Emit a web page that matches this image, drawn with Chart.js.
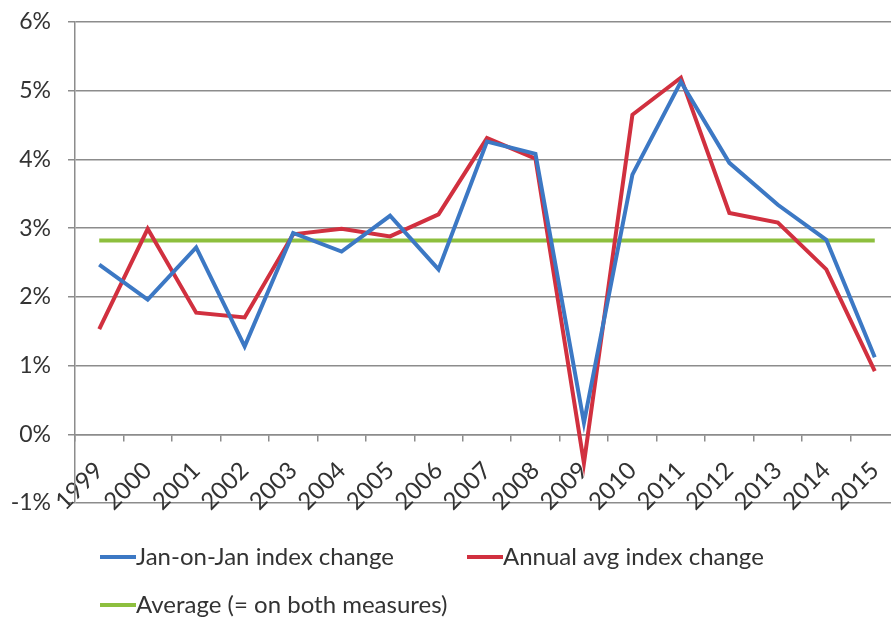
<!DOCTYPE html>
<html>
<head>
<meta charset="utf-8">
<script src="https://cdn.jsdelivr.net/npm/chart.js@4.4.1/dist/chart.umd.min.js"></script>
<style>
  html, body { margin: 0; padding: 0; background: #fff; overflow: hidden; }
  #wrap { width: 900px; height: 621px; }
</style>
</head>
<body>
<div id="wrap"><canvas id="myChart" width="900" height="621"></canvas></div>
<script>
const years = ['1999', '2000', '2001', '2002', '2003', '2004', '2005', '2006', '2007',
  '2008', '2009', '2010', '2011', '2012', '2013', '2014', '2015'];
const janOnJan = [2.47, 1.96, 2.72, 1.28, 2.93, 2.66, 3.18, 2.40, 4.26,
  4.08, 0.17, 3.78, 5.13, 3.95, 3.34, 2.83, 1.12];
const annualAvg = [1.53, 2.99, 1.77, 1.70, 2.91, 2.99, 2.88, 3.20, 4.31,
  4.01, -0.42, 4.65, 5.19, 3.22, 3.08, 2.40, 0.92];
const average = [2.82, 2.82, 2.82, 2.82, 2.82, 2.82, 2.82, 2.82, 2.82,
  2.82, 2.82, 2.82, 2.82, 2.82, 2.82, 2.82, 2.82];
const yTicks = [-1, 0, 1, 2, 3, 4, 5, 6];

const font = "Lato, 'Open Sans', sans-serif";
const gridCol = '#8c8c8c';
const textCol = '#333333';

// legend drawn by hand so it can sit like the excel one (two rows, left aligned)
const legendPlugin = {
  id: 'xlLegend',
  afterDraw(chart) {
    const c = chart.ctx;
    const items = [
      {ds: 0, x: 100, y: 557},
      {ds: 1, x: 467, y: 557},
      {ds: 2, x: 100, y: 605}
    ];
    c.save();
    c.font = '24px ' + font;
    c.textBaseline = 'middle';
    c.fillStyle = textCol;
    items.forEach(function(it){
      const d = chart.data.datasets[it.ds];
      c.strokeStyle = d.borderColor;
      c.lineWidth = 4;
      c.beginPath();
      c.moveTo(it.x, it.y);
      c.lineTo(it.x + 36, it.y);
      c.stroke();
      c.fillText(d.label, it.x + 36, it.y);
    });
    c.restore();
  }
};

window.onload = function(){
  const ctx = document.getElementById('myChart');
  const config = {
    type: 'line',
    data: {
      labels: years,
      datasets: [
        {
          label: 'Jan-on-Jan index change',
          data: janOnJan,
          borderColor: '#3c78c4',
          borderWidth: 4,
          pointRadius: 0,
          tension: 0
        },
        {
          label: 'Annual avg index change',
          data: annualAvg,
          borderColor: '#d1303f',
          borderWidth: 4,
          pointRadius: 0,
          tension: 0
        },
        {
          label: 'Average (= on both measures)',
          data: average,
          borderColor: '#8dbf3e',
          borderWidth: 4,
          pointRadius: 0,
          tension: 0
        }
      ]
    },
    options: {
      responsive: false,
      animation: false,
      layout: { padding: { top: 22, right: 1, bottom: 118, left: 0 } },
      plugins: {
        legend: { display: false },
        tooltip: { enabled: false }
      },
      scales: {
        x: {
          position: { y: 0 },
          offset: true,
          afterFit: function(scale){
            scale.paddingTop = 0; scale.paddingBottom = 0;
            scale.paddingLeft = 0; scale.paddingRight = 0;
          },
          grid: {
            offset: true,
            drawOnChartArea: false,
            drawTicks: true,
            tickLength: 6,
            color: gridCol,
            lineWidth: 1.5
          },
          border: { display: true, color: gridCol, width: 1.5 },
          ticks: {
            autoSkip: false,
            maxRotation: 45,
            minRotation: 45,
            padding: 16,
            color: textCol,
            font: { family: font, size: 24 }
          }
        },
        y: {
          min: -1,
          max: 6,
          afterBuildTicks: function(scale){
            scale.ticks = yTicks.map(function(v){ return {value: v}; });
          },
          afterFit: function(scale){ scale.width = 75; scale.paddingTop = 0; scale.paddingBottom = 0; },
          grid: {
            color: gridCol,
            lineWidth: 1.5,
            tickLength: 7
          },
          border: { display: true, color: gridCol, width: 1.5 },
          ticks: {
            padding: 17,
            color: textCol,
            font: { family: font, size: 23 },
            callback: function(v){ return v + '%'; }
          }
        }
      }
    },
    plugins: [legendPlugin]
  };
  new Chart(ctx, config);
};
</script>
</body>
</html>
